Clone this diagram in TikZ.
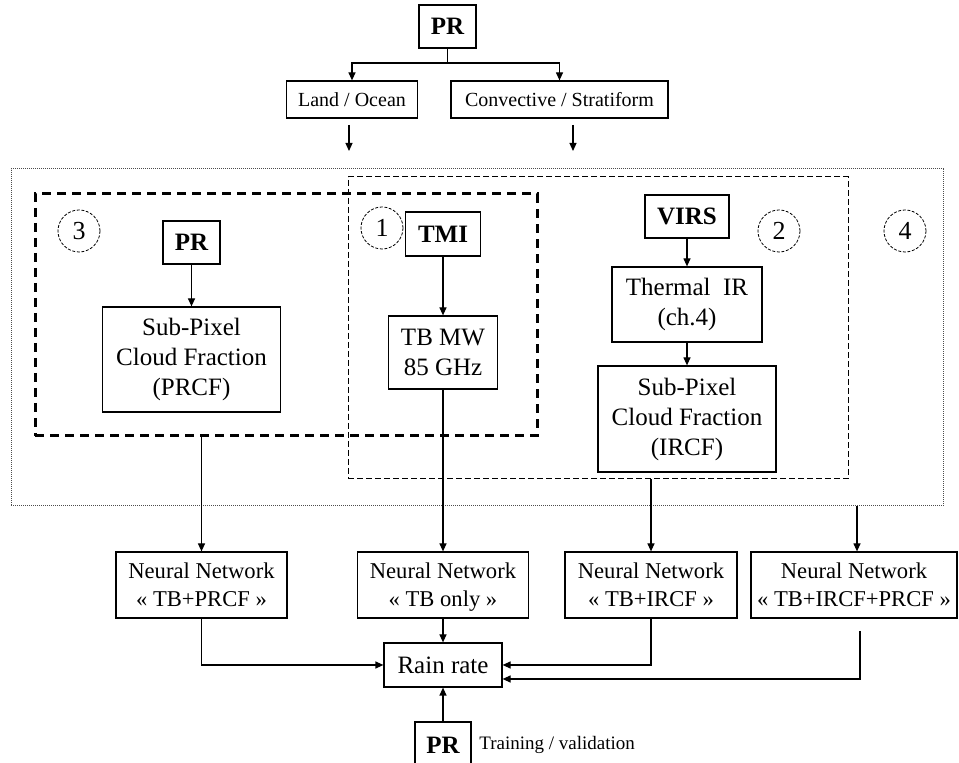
\documentclass[tikz,border=0pt]{standalone}
\usepackage{fontspec}
\setmainfont{Liberation Serif}
\usepackage{tikz}
\usetikzlibrary{arrows.meta}
\tikzset{
	box/.style={draw, line width=0.6pt, inner sep=0pt, align=center, font=\fontsize{12.5}{15}\selectfont},
	boldbox/.style={box, font=\fontsize{12.5}{15}\selectfont\bfseries},
	smallbox/.style={box, font=\fontsize{10}{12}\selectfont},
	netbox/.style={box, minimum height=33pt, text depth=0pt, font=\fontsize{11.3}{14}\selectfont},
	num/.style={draw, circle, line width=0.4pt, dash pattern=on 1.5pt off 0.8pt, minimum size=21pt, inner sep=0pt, font=\fontsize{13}{15}\selectfont},
	arr/.style={line width=0.6pt, -{Triangle[length=4pt,width=3.5pt]}},
	line/.style={line width=0.6pt},
	outerbox/.style={draw=black!70, line width=0.5pt, dash pattern=on 0.5pt off 0.5pt, inner sep=0pt},
	thickgrp/.style={draw, line width=1.5pt, dash pattern=on 4.5pt off 3pt, inner sep=0pt},
	thingrp/.style={draw, line width=0.5pt, dash pattern=on 3pt off 1.5pt, inner sep=0pt}
}

\begin{document}
\begin{tikzpicture}[x=0.5pt, y=-0.5pt]
		%%%%% START %%%%%
		\useasboundingbox (0, 0) rectangle (959, 763);
		
		\node[boldbox, minimum width=28.5pt, minimum height=21.5pt] (prtop) at (447.5, 26.5) {PR};
		\node[smallbox, minimum width=65.5pt, minimum height=18.5pt] (land) at (352, 99.5) {Land / Ocean};
		\node[smallbox, minimum width=108.5pt, minimum height=18.5pt] (conv) at (559.5, 99.5) {Convective / Stratiform};
		\coordinate (split) at (447.5, 63);
		\draw[line] (prtop) -- (split);
		\draw[arr] (split) -| (land.north);
		\draw[arr] (split) -| (conv.north);
		
		\coordinate (landA) at (349, 125);
		\coordinate (landB) at (349, 151);
		\coordinate (convA) at (573, 125);
		\coordinate (convB) at (573, 151);
		\draw[arr] (landA) -- (landB);
		\draw[arr] (convA) -- (convB);
		
		\node[outerbox, minimum width=466pt, minimum height=168.5pt] (outer) at (477, 337.5) {};
		\node[thickgrp, minimum width=251pt, minimum height=121pt] (grpPR) at (286, 315) {};
		\node[thingrp, minimum width=250pt, minimum height=151pt] (grpTB) at (598, 328) {};
		
		\node[num] (n3) at (79, 231) {3};
		\node[num] (n1) at (382, 228) {1};
		\node[num] (n2) at (779, 231) {2};
		\node[num] (n4) at (905, 231) {4};
		
		\node[boldbox, minimum width=28.5pt, minimum height=21.5pt] (prin) at (191.5, 242.5) {PR};
		\node[box, minimum width=89pt, minimum height=52.5pt] (prcf) at (191.5, 359.5) {Sub-Pixel\\Cloud Fraction\\(PRCF)};
		\draw[arr] (prin) -- (prcf);
		
		\node[boldbox, minimum width=37.5pt, minimum height=22pt] (tmi) at (443, 234) {TMI};
		\node[box, minimum width=54.5pt, minimum height=36.5pt] (tbmw) at (443, 352.5) {TB MW\\85 GHz};
		\draw[arr] (tmi) -- (tbmw);
		
		\node[boldbox, minimum width=42pt, minimum height=21.5pt] (virs) at (687, 216.5) {VIRS};
		\node[box, minimum width=75pt, minimum height=37.5pt] (thermal) at (687, 304.5) {Thermal\ \ IR\\(ch.4)};
		\node[box, minimum width=89pt, minimum height=53pt] (ircf) at (687, 419) {Sub-Pixel\\Cloud Fraction\\(IRCF)};
		\draw[arr] (virs) -- (thermal);
		\draw[arr] (thermal) -- (ircf);
		
		\node[netbox, minimum width=85.5pt] (nnPR) at (201.5, 585) {Neural Network\\« TB+PRCF »};
		\node[netbox, minimum width=85.5pt] (nnTB) at (443, 585) {Neural Network\\« TB only »};
		\node[netbox, minimum width=86pt] (nnIR) at (651, 585) {Neural Network\\« TB+IRCF »};
		\node[netbox, minimum width=103pt] (nnAll) at (854, 585) {Neural Network\\« TB+IRCF+PRCF »};
		
		\draw[arr] (nnPR.north |- grpPR.south) -- (nnPR.north);
		\draw[arr] (tbmw) -- (nnTB);
		\draw[arr] (nnIR.north |- grpTB.south) -- (nnIR.north);
		\draw[arr] ([xshift=1.5pt]nnAll.north |- outer.south) -- ([xshift=1.5pt]nnAll.north);
		
		\node[box, minimum width=59pt, minimum height=22pt] (rain) at (443, 665) {Rain rate};
		\node[boldbox, minimum width=28pt, minimum height=23pt] (prout) at (443, 745) {PR};
		\node[anchor=west, inner sep=0pt, font=\fontsize{9.5}{11}\selectfont] (train) at (479, 745) {Training / validation};
		
		\draw[arr] (nnPR.south) |- (rain.west);
		\draw[arr] (nnTB) -- (rain);
		\draw[arr] (nnIR.south) |- (rain.east);
		\coordinate (allEnd) at (860, 631);
		\draw[arr] (allEnd) |- ([yshift=-7pt]rain.east);
		\draw[arr] (prout) -- (rain);
		
		%%%%% END %%%%%
	\end{tikzpicture}
\end{document}
